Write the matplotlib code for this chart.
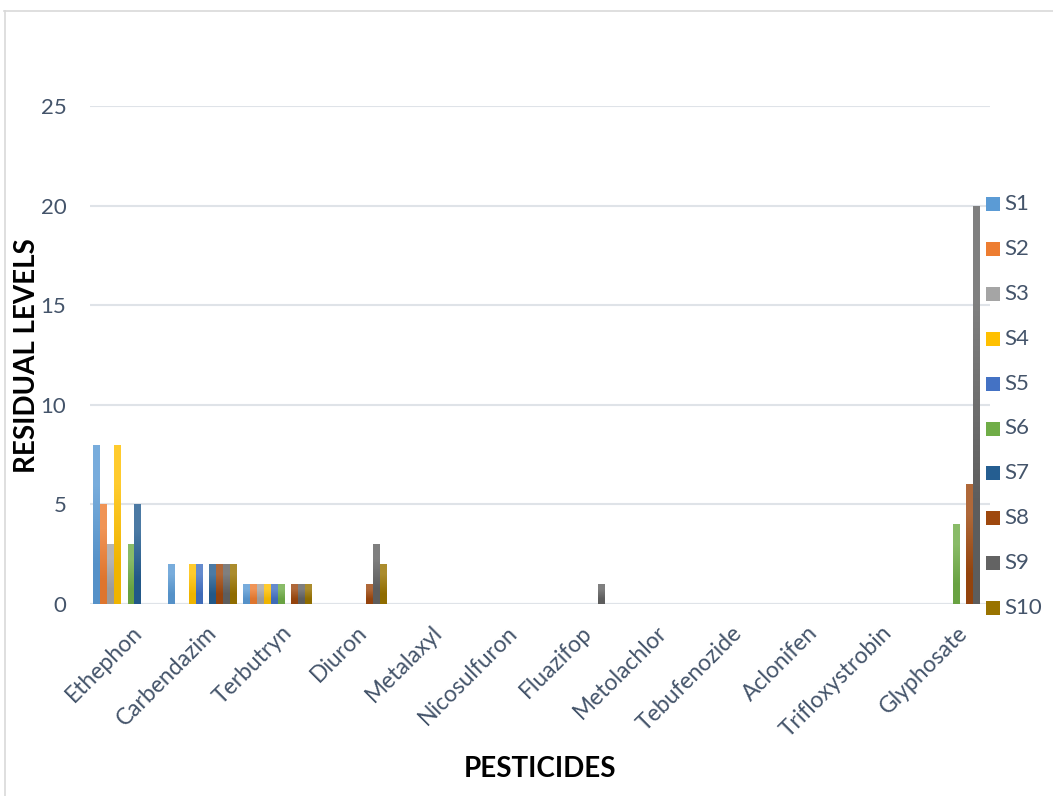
import matplotlib
matplotlib.use('Agg')
import matplotlib.pyplot as plt
import matplotlib.transforms as mtransforms
from matplotlib.colors import to_rgb
from matplotlib.patches import Rectangle
from matplotlib.lines import Line2D
import numpy as np

# Residue levels per pesticide, one list per sample
pesticides = ['Ethephon', 'Carbendazim', 'Terbutryn', 'Diuron', 'Metalaxyl',
              'Nicosulfuron', 'Fluazifop', 'Metolachlor', 'Tebufenozide',
              'Aclonifen', 'Trifloxystrobin', 'Glyphosate']
samples = ['S1', 'S2', 'S3', 'S4', 'S5', 'S6', 'S7', 'S8', 'S9', 'S10']

s1 = [8, 2, 1, 0, 0, 0, 0, 0, 0, 0, 0, 0]
s2 = [5, 0, 1, 0, 0, 0, 0, 0, 0, 0, 0, 0]
s3 = [3, 0, 1, 0, 0, 0, 0, 0, 0, 0, 0, 0]
s4 = [8, 2, 1, 0, 0, 0, 0, 0, 0, 0, 0, 0]
s5 = [0, 2, 1, 0, 0, 0, 0, 0, 0, 0, 0, 0]
s6 = [3, 0, 1, 0, 0, 0, 0, 0, 0, 0, 0, 4]
s7 = [5, 2, 0, 0, 0, 0, 0, 0, 0, 0, 0, 0]
s8 = [0, 2, 1, 1, 0, 0, 0, 0, 0, 0, 0, 6]
s9 = [0, 2, 1, 3, 0, 0, 1, 0, 0, 0, 0, 20]
s10 = [0, 2, 1, 2, 0, 0, 0, 0, 0, 0, 0, 0]
series = [s1, s2, s3, s4, s5, s6, s7, s8, s9, s10]

colors = ['#5B9BD5', '#ED7D31', '#A5A5A5', '#FFC000', '#4472C4',
          '#70AD47', '#255E91', '#9E480E', '#636363', '#997300']

plt.rcParams['font.family'] = ['Lato', 'DejaVu Sans']
text_color = '#44546A'

W, H = 1053, 796
fig = plt.figure(figsize=(W / 100, H / 100), dpi=100)

# light chart-area frame
fig.add_artist(Line2D([4.5 / W, 4.5 / W], [0, 1 - 11 / H], color='#d9d9d9', lw=1.2))
fig.add_artist(Line2D([4 / W, 1], [1 - 11 / H, 1 - 11 / H], color='#d9d9d9', lw=1.2))

ax = fig.add_axes([90 / W, 1 - 604 / H, 900 / W, 498 / H])

n = len(series)
bar_w = 0.0933
start = -0.5 + (1 - n * bar_w) / 2
x = np.arange(len(pesticides))


def shade(c, t):
    r = np.array(to_rgb(c))
    if t >= 0:
        return r + (1 - r) * t
    return r * (1 + t)


for k, (vals, col) in enumerate(zip(series, colors)):
    bars = ax.bar(x + start + k * bar_w, vals, width=bar_w, align='edge',
                  color=col, linewidth=0, zorder=2)
    # vertical gradient, lighter at the top
    grad = np.array([shade(col, 0.18), shade(col, -0.06)]).reshape(2, 1, 3)
    for b in bars:
        h = b.get_height()
        if h <= 0:
            continue
        im = ax.imshow(grad, extent=[b.get_x(), b.get_x() + b.get_width(), 0, h],
                       origin='upper', aspect='auto', interpolation='bilinear', zorder=3)
        im.set_clip_path(b)

ax.set_xlim(-0.5, len(pesticides) - 0.5)
ax.set_ylim(0, 25)
ax.set_yticks([0, 5, 10, 15, 20, 25])
ax.yaxis.grid(True, color='#dfe3e8', lw=1.5, zorder=0)
ax.axhline(0, color='#d5dbe3', lw=2.2, zorder=1)
for sp in ax.spines.values():
    sp.set_visible(False)

ax.tick_params(axis='y', length=0, pad=17, labelsize=16, labelcolor=text_color)
ax.tick_params(axis='x', length=0, pad=13, labelsize=16.5, labelcolor=text_color)
ax.set_xticks(x)
ax.set_xticklabels(pesticides, rotation=45, ha='right', va='top', rotation_mode='anchor')
shift = mtransforms.ScaledTranslation(4 / 100, 0, fig.dpi_scale_trans)
for lbl in ax.get_xticklabels():
    lbl.set_transform(lbl.get_transform() + shift)

fig.text(27 / W, 1 - 356 / H, 'RESIDUAL LEVELS', rotation=90, ha='center', va='center',
         fontsize=20, fontweight='bold', color='black')
fig.text(540 / W, 1 - 769 / H, 'PESTICIDES', ha='center', va='center',
         fontsize=20, fontweight='bold', color='black')

# legend on the right edge
for k, (name, col) in enumerate(zip(samples, colors)):
    yc = 204 + k * 44.9
    fig.add_artist(Rectangle((986 / W, 1 - (yc + 7) / H), 14 / W, 14 / H,
                             facecolor=col, edgecolor='none'))
    fig.text(1004 / W, 1 - yc / H, name, ha='left', va='center',
             fontsize=16, color=text_color)

fig.savefig('out.png', dpi=100)
